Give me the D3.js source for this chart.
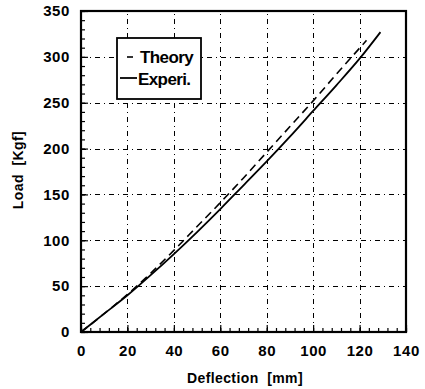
<!DOCTYPE html>
<html lang="en">
<head>
<meta charset="utf-8">
<title>Load vs Deflection</title>
<script src="https://cdn.jsdelivr.net/npm/d3@7"></script>
<style>
body { margin: 0; background: #fff; }
svg { font-family: "Liberation Sans", Arial, sans-serif; font-weight: bold; }
</style>
</head>
<body>
<script>
var width = 425, height = 389;
var margin = {left: 81, top: 11, right: 19, bottom: 57};

// tick labels
var xTicks = [0, 20, 40, 60, 80, 100, 120, 140];
var yTicks = [0, 50, 100, 150, 200, 250, 300, 350];

// series (deflection mm, load kgf)
var theoryX = [0, 10, 20, 30, 40, 50, 60, 70, 80, 90, 100, 110, 123];
var theoryY = [0, 20, 41, 64, 89, 115, 141, 168, 196, 224, 252, 281, 318];
var experiX = [0, 10, 20, 30, 40, 50, 60, 70, 80, 90, 100, 110, 120, 129];
var experiY = [0, 20, 40, 62, 85, 109, 134, 160, 186, 213, 241, 269, 298, 327];

var seriesNames = ["Theory", "Experi."];

var svg = d3.select("body").append("svg")
    .attr("width", width).attr("height", height);

var x = d3.scaleLinear().domain([0, 140]).range([margin.left, width - margin.right]);
var y = d3.scaleLinear().domain([0, 350]).range([height - margin.bottom, margin.top]);

// grid lines (sparse dash-dot)
var grid = svg.append("g").attr("class", "grid").attr("shape-rendering", "crispEdges");
grid.selectAll("line.gx").data(xTicks.slice(1, -1)).enter().append("line")
    .attr("class", "gx")
    .attr("x1", d => Math.round(x(d)) + 0.5).attr("x2", d => Math.round(x(d)) + 0.5)
    .attr("y1", y(0)).attr("y2", y(350))
    .attr("stroke", "#000").attr("stroke-width", 1)
    .attr("stroke-dasharray", "5,4,1,4");
grid.selectAll("line.gy").data(yTicks.slice(1, -1)).enter().append("line")
    .attr("class", "gy")
    .attr("x1", x(0)).attr("x2", x(140))
    .attr("y1", d => Math.round(y(d)) + 0.5).attr("y2", d => Math.round(y(d)) + 0.5)
    .attr("stroke", "#000").attr("stroke-width", 1)
    .attr("stroke-dasharray", "5,4,1,4");

// minor ticks
var xMinor = d3.range(0, 141, 4);
var yMinor = d3.range(0, 351, 10);
svg.append("g").attr("transform", "translate(0," + y(0) + ")")
    .call(d3.axisBottom(x).tickValues(xMinor).tickSize(-4).tickFormat(""))
    .call(a => a.select(".domain").remove())
    .selectAll("line").attr("stroke-width", 1.2);
svg.append("g").attr("transform", "translate(" + x(0) + ",0)")
    .call(d3.axisLeft(y).tickValues(yMinor).tickSize(-4).tickFormat(""))
    .call(a => a.select(".domain").remove())
    .selectAll("line").attr("stroke-width", 1.2);

// major tick labels
var xAxis = svg.append("g").attr("transform", "translate(0," + y(0) + ")")
    .call(d3.axisBottom(x).tickValues(xTicks).tickSize(-7).tickPadding(13));
xAxis.select(".domain").remove();
xAxis.selectAll("line").attr("stroke-width", 1.2);
xAxis.selectAll("text").attr("font-size", 15).attr("font-weight", "bold")
    .attr("letter-spacing", 0.6)
    .attr("font-family", "Liberation Sans, Arial, sans-serif").attr("fill", "#000");

var yAxis = svg.append("g").attr("transform", "translate(" + x(0) + ",0)")
    .call(d3.axisLeft(y).tickValues(yTicks).tickSize(-7).tickPadding(11));
yAxis.select(".domain").remove();
yAxis.selectAll("line").attr("stroke-width", 1.2);
yAxis.selectAll("text").attr("font-size", 15).attr("font-weight", "bold")
    .attr("letter-spacing", 0.6)
    .attr("font-family", "Liberation Sans, Arial, sans-serif").attr("fill", "#000");

// frame
svg.append("rect")
    .attr("x", x(0)).attr("y", y(350))
    .attr("width", x(140) - x(0)).attr("height", y(0) - y(350))
    .attr("fill", "none").attr("stroke", "#000").attr("stroke-width", 2.2);

// curves
var line = d3.line().x(d => x(d[0])).y(d => y(d[1])).curve(d3.curveMonotoneX);
svg.append("path").datum(d3.zip(theoryX, theoryY))
    .attr("d", line).attr("fill", "none").attr("stroke", "#000")
    .attr("stroke-width", 1.6).attr("stroke-dasharray", "8,5");
svg.append("path").datum(d3.zip(experiX, experiY))
    .attr("d", line).attr("fill", "none").attr("stroke", "#000")
    .attr("stroke-width", 1.8);

// legend
var leg = svg.append("g");
leg.append("rect").attr("x", 117).attr("y", 38).attr("width", 84).attr("height", 61)
    .attr("fill", "#fff").attr("stroke", "#000").attr("stroke-width", 1.8);
leg.append("line").attr("x1", 127).attr("x2", 133).attr("y1", 57).attr("y2", 57)
    .attr("stroke", "#000").attr("stroke-width", 1.6);
leg.append("line").attr("x1", 120).attr("x2", 137).attr("y1", 78).attr("y2", 78)
    .attr("stroke", "#000").attr("stroke-width", 1.8);
leg.append("text").attr("x", 140).attr("y", 63).attr("font-size", 17)
    .attr("letter-spacing", -0.6).text(seriesNames[0]);
leg.append("text").attr("x", 138).attr("y", 85).attr("font-size", 17)
    .attr("letter-spacing", -0.6).text(seriesNames[1]);

// axis titles
svg.append("text").attr("x", 245).attr("y", 383).attr("text-anchor", "middle")
    .attr("font-size", 14).attr("letter-spacing", 0.4)
    .attr("xml:space", "preserve").text("Deflection  [mm]");
svg.append("text").attr("transform", "translate(23,170) rotate(-90)")
    .attr("text-anchor", "middle").attr("font-size", 14).attr("letter-spacing", 0.4)
    .attr("xml:space", "preserve").text("Load  [Kgf]");
</script>
</body>
</html>
